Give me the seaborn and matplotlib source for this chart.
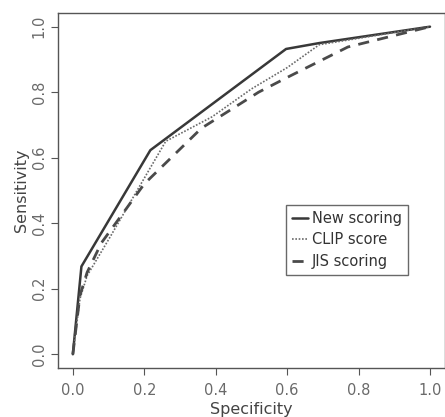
import matplotlib
matplotlib.use("Agg")
import matplotlib.pyplot as plt
import seaborn as sns
import pandas as pd

sns.set_theme(style="white")
plt.rcParams['font.family'] = ['DejaVu Sans']

new_x = [0.0, 0.024, 0.217, 0.597, 0.69, 1.0]
new_y = [0.0, 0.268, 0.623, 0.932, 0.950, 1.0]

clip_x = [0.0, 0.02, 0.04, 0.10, 0.26, 0.39, 0.50, 0.60, 0.69, 1.0]
clip_y = [0.0, 0.17, 0.24, 0.35, 0.65, 0.725, 0.81, 0.875, 0.945, 1.0]

jis_x = [0.0, 0.02, 0.04, 0.08, 0.20, 0.36, 0.52, 0.60, 0.77, 1.0]
jis_y = [0.0, 0.18, 0.25, 0.34, 0.52, 0.69, 0.80, 0.845, 0.938, 1.0]

labels = ["New scoring", "CLIP score", "JIS scoring"]
xticks = [0.0, 0.2, 0.4, 0.6, 0.8, 1.0]

df = pd.concat([
    pd.DataFrame({"Specificity": new_x, "Sensitivity": new_y, "method": labels[0]}),
    pd.DataFrame({"Specificity": clip_x, "Sensitivity": clip_y, "method": labels[1]}),
    pd.DataFrame({"Specificity": jis_x, "Sensitivity": jis_y, "method": labels[2]}),
])

fig = plt.figure(figsize=(4.45, 4.17), dpi=100)
ax = fig.add_axes([0.130, 0.1175, 0.870, 0.8515])

styles = {labels[0]: dict(ls="-", lw=1.8, color="#383838"),
          labels[1]: dict(ls=(0, (1, 1)), lw=1.2, color="#6a6a6a"),
          labels[2]: dict(ls=(0, (4, 3)), lw=2.0, color="#4a4a4a")}
for lab in labels:
    sub = df[df["method"] == lab]
    sns.lineplot(data=sub, x="Specificity", y="Sensitivity", ax=ax, sort=False,
                 estimator=None, label=lab, **styles[lab])

ax.set_xlim(-0.042, 1.042)
ax.set_ylim(-0.042, 1.042)
ax.set_xticks(xticks)
ax.set_yticks(xticks)
ax.set_xticklabels([f"{t:.1f}" for t in xticks])
ax.set_yticklabels([f"{t:.1f}" for t in xticks], rotation=90, va="center")
ax.tick_params(axis="both", direction="out", length=5, width=0.8, colors="#555555",
               labelsize=10.5, labelcolor="#6a6a6a", bottom=True, left=True)
ax.tick_params(axis="x", pad=6)
ax.tick_params(axis="y", pad=3)
for s in ax.spines.values():
    s.set_color("#555555")
    s.set_linewidth(1.0)
ax.set_xlabel("Specificity", fontsize=11.5, color="#444444", labelpad=3)
ax.set_ylabel("Sensitivity", fontsize=11.5, color="#444444", labelpad=2)

leg = ax.legend(loc="upper left", bbox_to_anchor=(0.589, 0.459), fontsize=10.5,
                handlelength=1.1, handletextpad=0.3, borderpad=0.4,
                labelspacing=0.45, frameon=True, fancybox=False, edgecolor="#444444",
                borderaxespad=0)
leg.get_frame().set_linewidth(1.0)
for t in leg.get_texts():
    t.set_color("#333333")

fig.savefig("out.png", dpi=100)
